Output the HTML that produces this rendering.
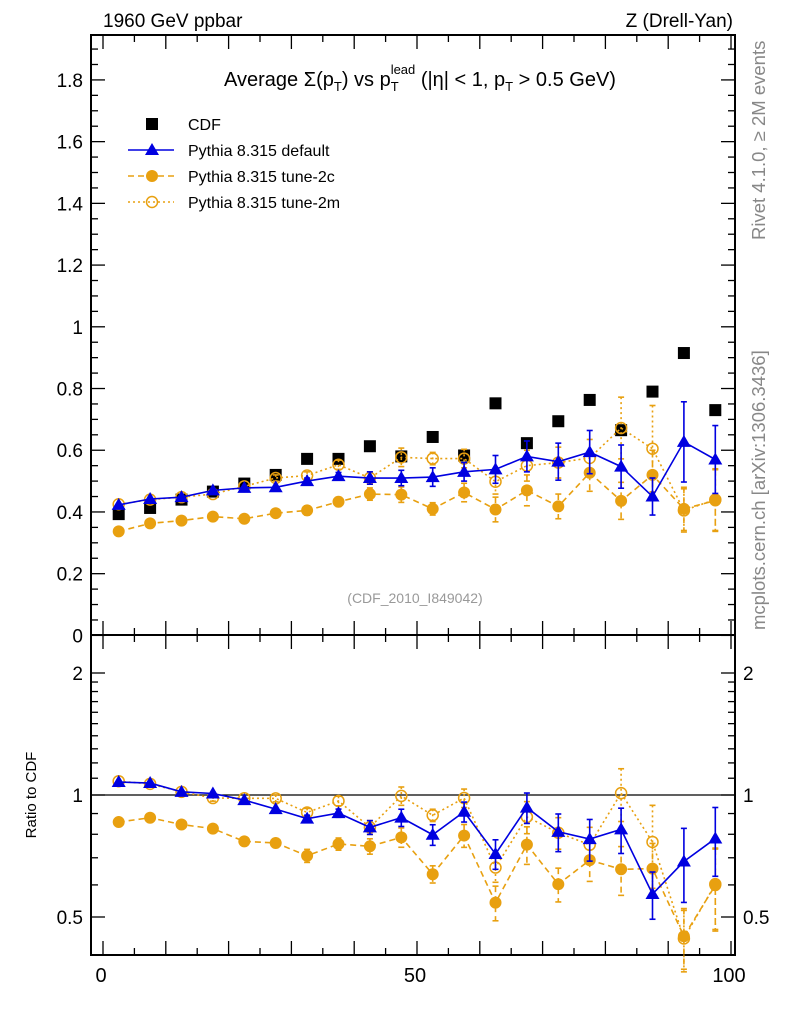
<!DOCTYPE html>
<html><head><meta charset="utf-8"><style>
body{margin:0;background:#fff;}
svg{display:block;font-family:"Liberation Sans","DejaVu Sans",sans-serif;}
</style></head><body>
<svg id="chart" width="786" height="1024" viewBox="0 0 786 1024" xmlns="http://www.w3.org/2000/svg">
<text x="103" y="27" font-size="19">1960 GeV ppbar</text>
<text x="733" y="27" font-size="19" text-anchor="end">Z (Drell-Yan)</text>
<text x="420" y="86" font-size="20" text-anchor="middle">Average Σ(p<tspan font-size="13" dy="5">T</tspan><tspan dy="-5">) vs p</tspan><tspan font-size="13" dy="5">T</tspan><tspan font-size="13" dx="-8" dy="-17">lead</tspan><tspan dy="12"> (|η| &lt; 1, p</tspan><tspan font-size="13" dy="5">T</tspan><tspan dy="-5"> &gt; 0.5 GeV)</tspan></text>
<text transform="translate(765,240) rotate(-90)" font-size="18.5" fill="#888">Rivet 4.1.0, ≥ 2M events</text>
<text transform="translate(765,630) rotate(-90)" font-size="18.5" fill="#888">mcplots.cern.ch [arXiv:1306.3436]</text>
<text x="415" y="603" font-size="14" fill="#999" text-anchor="middle">(CDF_2010_I849042)</text>
<text transform="translate(36,795) rotate(-90)" font-size="15" text-anchor="middle">Ratio to CDF</text>
<g id="axes"></g>
<g id="marks"></g>
<g id="legend"></g>
</svg>
<script>
const xBins=[2.5,7.5,12.5,17.5,22.5,27.5,32.5,37.5,42.5,47.5,52.5,57.5,62.5,67.5,72.5,77.5,82.5,87.5,92.5,97.5];
const cdf=[0.393,0.413,0.44,0.466,0.492,0.52,0.572,0.572,0.613,0.58,0.643,0.583,0.752,0.623,0.694,0.763,0.665,0.79,0.915,0.73];
const pyDef=[0.423,0.442,0.448,0.47,0.478,0.48,0.5,0.516,0.51,0.51,0.513,0.53,0.538,0.58,0.563,0.594,0.547,0.45,0.627,0.57];
const pyDefErr=[0.006,0.006,0.006,0.006,0.008,0.008,0.01,0.012,0.02,0.025,0.03,0.03,0.045,0.05,0.06,0.07,0.07,0.06,0.13,0.11];
const py2c=[0.337,0.363,0.372,0.385,0.378,0.396,0.405,0.433,0.458,0.456,0.41,0.463,0.408,0.47,0.418,0.527,0.436,0.52,0.41,0.437];
const py2cErr=[0.006,0.006,0.006,0.008,0.008,0.01,0.015,0.015,0.02,0.025,0.02,0.03,0.04,0.05,0.04,0.06,0.06,0.08,0.07,0.1];
const py2m=[0.425,0.44,0.448,0.458,0.483,0.51,0.518,0.553,0.51,0.577,0.573,0.573,0.498,0.55,0.56,0.575,0.672,0.605,0.405,0.44];
const py2mErr=[0.006,0.006,0.006,0.008,0.008,0.01,0.012,0.015,0.02,0.03,0.02,0.03,0.04,0.05,0.05,0.06,0.1,0.14,0.07,0.1];
const mainTicks=[0,0.2,0.4,0.6,0.8,1,1.2,1.4,1.6,1.8];
const mainTickLabels=["0","0.2","0.4","0.6","0.8","1","1.2","1.4","1.6","1.8"];
const ratioTicks=[0.5,1,2];
const ratioTickLabels=["0.5","1","2"];
const xTicks=[0,50,100];
const xTickLabels=["0","50","100"];

const NS="http://www.w3.org/2000/svg";
const L=91,R=735,T=35,M=635,B=955;
const sx=v=>103+v*6.28;
const sy=v=>635.4-v*308.6;
const sr=v=>795-122*Math.log2(v);
function mk(tag,attrs,parent){const e=document.createElementNS(NS,tag);for(const k in attrs)e.setAttribute(k,attrs[k]);parent.appendChild(e);return e;}
const axes=document.getElementById('axes');
const marks=document.getElementById('marks');
const legend=document.getElementById('legend');

let f1=mk('rect',{x:L,y:T,width:R-L,height:M-T,fill:'none',stroke:'#000','stroke-width':2},axes);


let f2=mk('rect',{x:L,y:M,width:R-L,height:B-M,fill:'none',stroke:'#000','stroke-width':2},axes);



for(let v=0;v<=1.95;v+=0.05){
  const y=sy(v);if(y<T)break;
  const major=Math.abs(v/0.2-Math.round(v/0.2))<1e-6;
  const len=major?14:7;
  mk('line',{x1:L,x2:L+len,y1:y,y2:y,stroke:'#000','stroke-width':1.3},axes);
  mk('line',{x1:R,x2:R-len,y1:y,y2:y,stroke:'#000','stroke-width':1.3},axes);
}
mainTicks.forEach((v,i)=>{
  const t=mk('text',{x:L-8,y:sy(v)+7,'font-size':19,'text-anchor':'end'},axes);
  t.textContent=mainTickLabels[i];
  
  
});
const rMinor=[0.4,0.5,0.6,0.7,0.8,0.9,1,2];
rMinor.forEach(v=>{
  const y=sr(v);if(y>B||y<M)return;
  const major=(v===0.5||v===1||v===2);
  const len=major?14:7;
  mk('line',{x1:L,x2:L+len,y1:y,y2:y,stroke:'#000','stroke-width':1.3},axes);
  mk('line',{x1:R,x2:R-len,y1:y,y2:y,stroke:'#000','stroke-width':1.3},axes);
});
for(let v=1.1;v<2;v+=0.1){const y=sr(v);
  mk('line',{x1:L,x2:L+7,y1:y,y2:y,stroke:'#000','stroke-width':1.3},axes);
  mk('line',{x1:R,x2:R-7,y1:y,y2:y,stroke:'#000','stroke-width':1.3},axes);}
ratioTicks.forEach((v,i)=>{
  const t=mk('text',{x:L-8,y:sr(v)+7,'font-size':19,'text-anchor':'end'},axes);
  t.textContent=ratioTickLabels[i];
  
  
  const t2=mk('text',{x:R+8,y:sr(v)+7,'font-size':19},axes);
  t2.textContent=ratioTickLabels[i];
  
  
});
for(let v=0;v<=100;v+=5){
  const x=sx(v);const major=v%10===0;const len=major?14:7;
  [[M,1],[T,1],[B,-1],[M,-1]].forEach(([y0,d])=>{
    mk('line',{x1:x,x2:x,y1:y0,y2:y0+d*len,stroke:'#000','stroke-width':1.3},axes);
  });
}
xTicks.forEach((v,i)=>{
  const t=mk('text',{x:sx(v)-2,y:982,'font-size':20,'text-anchor':'middle'},axes);
  t.textContent=xTickLabels[i];
  
  
});
let rl=mk('line',{x1:L,x2:R,y1:sr(1),y2:sr(1),stroke:'#000','stroke-width':1.3},axes);



function marker(type,x,y,color,parent){
  if(type==='square'){return mk('rect',{x:x-6,y:y-6,width:12,height:12,fill:'#000'},parent);}
  if(type==='tri'){return mk('polygon',{points:`${x},${y-7} ${x-7},${y+5} ${x+7},${y+5}`,fill:color},parent);}
  if(type==='dot'){return mk('circle',{cx:x,cy:y,r:6,fill:color},parent);}
  return mk('circle',{cx:x,cy:y,r:5.5,fill:'none',stroke:color,'stroke-width':1.5},parent);
}
function series(name,vals,errs,color,dash,type,ymap,ratio){
  const g=mk('g',{},marks);
  
  
  const ys=vals.map((v,i)=>ratio?v/cdf[i]:v);
  const es=errs.map((e,i)=>ratio?e/cdf[i]:e);
  mk('polyline',{points:xBins.map((x,i)=>sx(x)+','+ymap(ys[i])).join(' '),fill:'none',stroke:color,'stroke-width':1.6,'stroke-dasharray':dash},g);
  xBins.forEach((x,i)=>{
    const px=sx(x),y1=ymap(ys[i]+es[i]),y2=ymap(Math.max(ys[i]-es[i],0.01));
    if(Math.abs(y2-y1)>6){
      mk('line',{x1:px,x2:px,y1:y1,y2:y2,stroke:color,'stroke-width':1.6,'stroke-dasharray':dash},g);
      mk('line',{x1:px-3,x2:px+3,y1:y1,y2:y1,stroke:color,'stroke-width':1.6},g);
      mk('line',{x1:px-3,x2:px+3,y1:y2,y2:y2,stroke:color,'stroke-width':1.6},g);
    }
    const m=marker(type,px,ymap(ys[i]),color,g);
    
    
  });
}
const cg=mk('g',{},marks);


xBins.forEach((x,i)=>{const m=marker('square',sx(x),sy(cdf[i]),'#000',cg);
  
  });
const ORG='#e8a010',BLU='#0000e0';
series('pythia-tune-2m',py2m,py2mErr,ORG,'2,3','ring',sy,false);
series('pythia-tune-2c',py2c,py2cErr,ORG,'6,4','dot',sy,false);
series('pythia-default',pyDef,pyDefErr,BLU,'none','tri',sy,false);
series('ratio-tune-2m',py2m,py2mErr,ORG,'2,3','ring',sr,true);
series('ratio-tune-2c',py2c,py2cErr,ORG,'6,4','dot',sr,true);
series('ratio-default',pyDef,pyDefErr,BLU,'none','tri',sr,true);

const entries=[['CDF','square','#000','none'],['Pythia 8.315 default','tri',BLU,'none'],['Pythia 8.315 tune-2c','dot',ORG,'6,4'],['Pythia 8.315 tune-2m','ring',ORG,'2,3']];
entries.forEach((e,i)=>{
  const y=124+i*26;
  const g=mk('g',{},legend);
  
  
  if(i>0)mk('line',{x1:128,x2:174,y1:y,y2:y,stroke:e[2],'stroke-width':1.6,'stroke-dasharray':e[3]},g);
  marker(e[1],152,y,e[2],g);
  const t=mk('text',{x:188,y:y+6,'font-size':16},g);t.textContent=e[0];
});
</script>
</body></html>
